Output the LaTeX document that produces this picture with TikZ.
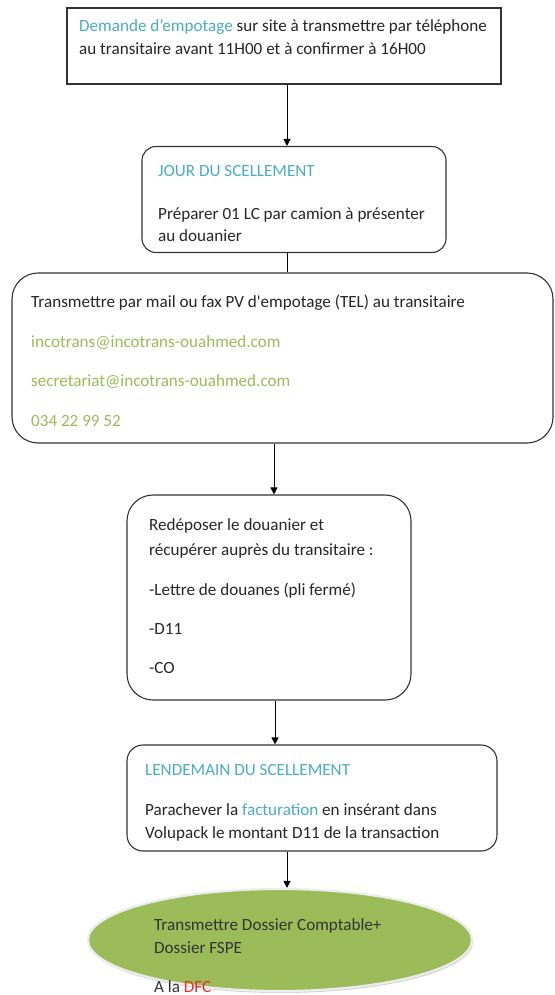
\documentclass[tikz,border=0pt]{standalone}
\usepackage{fontspec}
\setmainfont{Carlito}[Ligatures=TeXOff]
\usetikzlibrary{arrows.meta,shadows,shapes.geometric}
\definecolor{headblue}{HTML}{4BACC6}
\definecolor{mailgreen}{HTML}{9BBB59}
\definecolor{ovalgreen}{HTML}{9BBB59}
\definecolor{linegray}{HTML}{333333}
\definecolor{dfcred}{HTML}{E8302A}
\begin{document}
\begin{tikzpicture}[x=1pt,y=-1pt,
  box/.style={draw=linegray, line width=1.1pt, inner sep=0pt, fill=white},
  txt/.style={anchor=base west, inner sep=0pt, font=\fontsize{17.1}{20}\selectfont, text=black!85},
  arr/.style={draw=black, line width=0.9pt, -{Triangle[length=7pt,width=7pt]}},
  link/.style={draw=black, line width=0.9pt}]
\useasboundingbox (0,0) rectangle (554,995);

% step boxes
\node[box, minimum width=434pt, minimum height=76pt] (b1) at (284,46) {};
\node[box, rounded corners=14pt, minimum width=304pt, minimum height=106pt] (b2) at (294,199.5) {};
\node[box, rounded corners=26pt, minimum width=541pt, minimum height=170pt] (b3) at (282.5,358) {};
\node[box, rounded corners=26pt, minimum width=284pt, minimum height=205pt] (b4) at (269,597.5) {};
\node[box, rounded corners=16pt, minimum width=370pt, minimum height=106pt] (b5) at (312,798) {};
\node[draw=white!85!gray, line width=2.2pt, fill=ovalgreen, ellipse, inner sep=0pt,
      minimum width=384pt, minimum height=102pt,
      drop shadow={opacity=0.35, shadow xshift=1pt, shadow yshift=-2pt}] (b6) at (280,940) {};

% connectors
\draw[arr] ([xshift=3pt]b1.south) -- ([xshift=3pt]b1.south |- b2.north);
\draw[link] ([xshift=-7pt]b2.south) -- ([xshift=-7pt]b2.south |- b3.north);
\draw[arr] ([xshift=-8.5pt]b3.south) -- ([xshift=-8.5pt]b3.south |- b4.north);
\draw[arr] ([xshift=6pt]b4.south) -- ([xshift=6pt]b4.south |- b5.north);
\draw[arr] ([xshift=-25pt]b5.south) -- ([xshift=-25pt]b5.south |- b6.north);

% box 1
\node[txt] (t11) at (79,32) {\textcolor{headblue}{Demande d’empotage} sur site à transmettre par téléphone};
\node[txt] (t12) at (79,55) {au transitaire avant 11H00 et à confirmer à 16H00};

% box 2
\node[txt, text=headblue] (t21) at (158,177) {JOUR DU SCELLEMENT};
\node[txt] (t22) at (158,219) {Préparer 01 LC par camion à présenter};
\node[txt] (t23) at (158,241) {au douanier};

% box 3
\node[txt] (t31) at (31,307) {Transmettre par mail ou fax PV d'empotage (TEL) au transitaire};
\node[txt, text=mailgreen] (t32) at (31,347) {incotrans@incotrans-ouahmed.com};
\node[txt, text=mailgreen] (t33) at (31,386) {secretariat@incotrans-ouahmed.com};
\node[txt, text=mailgreen] (t34) at (31,426) {034 22 99 52};

% box 4
\node[txt] (t41) at (149,530) {Redéposer le douanier et};
\node[txt] (t42) at (149,555) {récupérer auprès du transitaire :};
\node[txt] (t43) at (149,595) {-Lettre de douanes (pli fermé)};
\node[txt] (t44) at (149,634) {-D11};
\node[txt] (t45) at (149,673) {-CO};

% box 5
\node[txt, text=headblue] (t51) at (145,775) {LENDEMAIN DU SCELLEMENT};
\node[txt] (t52) at (145,815) {Parachever la \textcolor{headblue}{facturation} en insérant dans};
\node[txt] (t53) at (145,838) {Volupack le montant D11 de la transaction};

% final oval
\node[txt, text=black!80] (t61) at (154,930) {Transmettre Dossier Comptable+};
\node[txt, text=black!80] (t62) at (154,953) {Dossier FSPE};
\node[txt, text=black!80] (t63) at (154,992) {A la \textcolor{dfcred}{DFC}};
\end{tikzpicture}
\end{document}
